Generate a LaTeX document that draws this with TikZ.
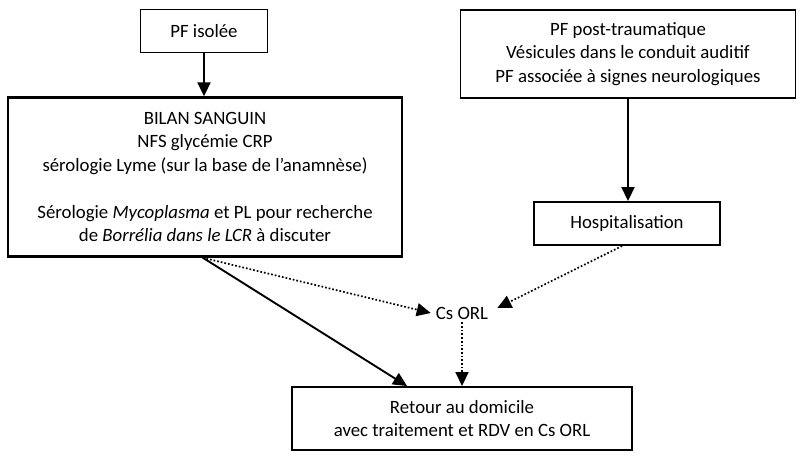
\documentclass[tikz,border=0pt]{standalone}
\usepackage{fontspec}
\setmainfont{Carlito}
\usetikzlibrary{arrows.meta,calc}
\begin{document}
\begin{tikzpicture}[x=1pt,y=-1pt,
  box/.style={draw,line width=1.9pt,rectangle,inner sep=0pt,align=center,
    font=\fontsize{18.8}{23.5}\selectfont},
  arr/.style={line width=1.9pt,-{Triangle[length=14pt,width=13pt]}},
  darr/.style={line width=1.7pt,dotted,-{Triangle[length=14pt,width=13pt]}}]
\useasboundingbox (0,0) rectangle (800,460);
\node[box,minimum width=127pt,minimum height=43pt] (iso) at (204,31) {PF isolée};
\node[box,line width=2.4pt,minimum width=394pt,minimum height=159pt] (bilan) at (205,177)
  {BILAN SANGUIN\\NFS glycémie CRP\\sérologie Lyme (sur la base de l’anamnèse)\\[23.5pt]
   Sérologie \textit{Mycoplasma} et PL pour recherche\\de \textit{Borrélia dans le LCR} à discuter};
\node[box,minimum width=335pt,minimum height=88pt] (post) at (628,54)
  {PF post-traumatique\\Vésicules dans le conduit auditif\\PF associée à signes neurologiques};
\node[box,minimum width=186pt,minimum height=43pt] (hosp) at (627,223.5) {Hospitalisation};
\node[box,minimum width=340pt,minimum height=63pt] (ret) at (462,418.5)
  {Retour au domicile\\avec traitement et RDV en Cs ORL};
\node[font=\fontsize{18.8}{22}\selectfont,inner sep=3pt] (cs) at (462,313) {Cs ORL};
\coordinate (bs) at ($(bilan.south west)+(196,0)$);
\coordinate (rt) at ($(ret.north west)+(116,0)$);
\coordinate (hs) at ($(hosp.south west)+(89,0)$);
\draw[arr] (iso.south) -- (iso.south |- bilan.north);
\draw[arr] (post.south) -- (post.south |- hosp.north);
\draw[arr] (bs) -- (rt);
\draw[darr] (bs) -- ($(cs.west)+(-2,0)$);
\draw[darr] (hs) -- ($(cs.east)+(6,-5)$);
\draw[darr] (cs.south) -- (cs.south |- ret.north);
\end{tikzpicture}
\end{document}
